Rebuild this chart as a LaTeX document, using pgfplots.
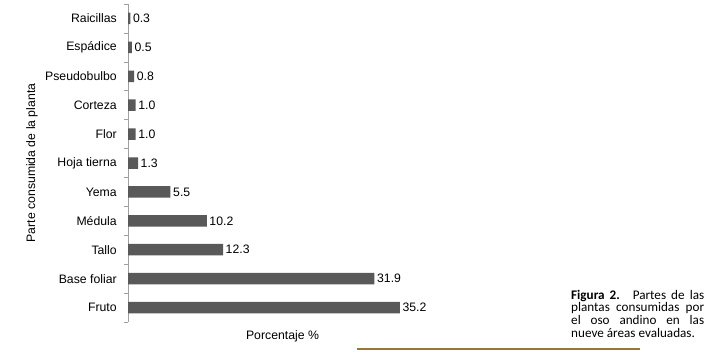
\documentclass[border=0pt]{standalone}
\usepackage{pgfplots}
\pgfplotsset{compat=1.18}
\usepackage{fontspec}
\setmainfont{Liberation Sans}
\newfontfamily\capfont{Carlito}
\definecolor{bargray}{RGB}{89,89,89}
\definecolor{axisgray}{RGB}{160,160,160}
\definecolor{gold}{RGB}{150,120,50}
\begin{document}
\fontsize{12.3}{14}\selectfont
\begin{tikzpicture}
\path[use as bounding box] (0,0) rectangle (709bp,-361bp);
\begin{axis}[
  at={(128bp,-4bp)}, anchor=north west,
  scale only axis, width=309bp, height=318bp,
  xbar, bar width=11.5bp,
  xmin=0, xmax=40, ymin=-0.5, ymax=10.5,
  axis x line*=bottom,
  x axis line style={draw=none},
  xtick=\empty,
  axis y line*=left,
  y axis line style={axisgray, line width=0.6pt},
  ytick={0,...,10},
  yticklabels={Fruto,Base foliar,Tallo,Médula,Yema,Hoja tierna,Flor,Corteza,Pseudobulbo,Espádice,Raicillas},
  minor ytick={-0.5,0.5,...,10.5},
  major tick length=0pt, minor tick length=4bp,
  tick align=outside,
  minor tick style={axisgray, line width=0.6pt},
  yticklabel style={font=\fontsize{12.3}{14}\selectfont, xshift=-7bp},
  ylabel={Parte consumida de la planta},
  ylabel style={at={(axis description cs:-0.311,0.5)}, anchor=center, font=\fontsize{12.3}{14}\selectfont},
  xlabel={Porcentaje \%},
  xlabel style={at={(axis description cs:0.5,0)}, anchor=center, yshift=-14bp, font=\fontsize{12.3}{14}\selectfont},
  nodes near coords,
  nodes near coords style={font=\fontsize{12.3}{14}\selectfont, anchor=west, inner sep=2.5bp, text=black},
  /pgf/number format/fixed,
  /pgf/number format/fixed zerofill,
  /pgf/number format/precision=1,
  /pgf/number format/assume math mode=true,
  clip=false,
]
\addplot[fill=bargray, draw=none] coordinates {
  (35.2,0) (31.9,1) (12.3,2) (10.2,3) (5.5,4) (1.3,5) (1.0,6) (1.0,7) (0.8,8) (0.5,9) (0.3,10)
};
\end{axis}
\draw[gold, line width=2bp] (357bp,-348.5bp) -- (640bp,-348.5bp);
\begin{scope}[every node/.style={anchor=base west, inner sep=0pt, font=\capfont\fontsize{13.2}{14}\selectfont}]
\node at (571bp,-299bp) {\makebox[133bp][s]{\textbf{Figura 2.}\hspace{0.2em} Partes de las}};
\node at (571bp,-311.8bp) {\makebox[133bp][s]{plantas consumidas por}};
\node at (571bp,-324.6bp) {\makebox[133bp][s]{el oso andino en las}};
\node at (571bp,-337.4bp) {nueve áreas evaluadas.};
\end{scope}
\end{tikzpicture}
\end{document}
